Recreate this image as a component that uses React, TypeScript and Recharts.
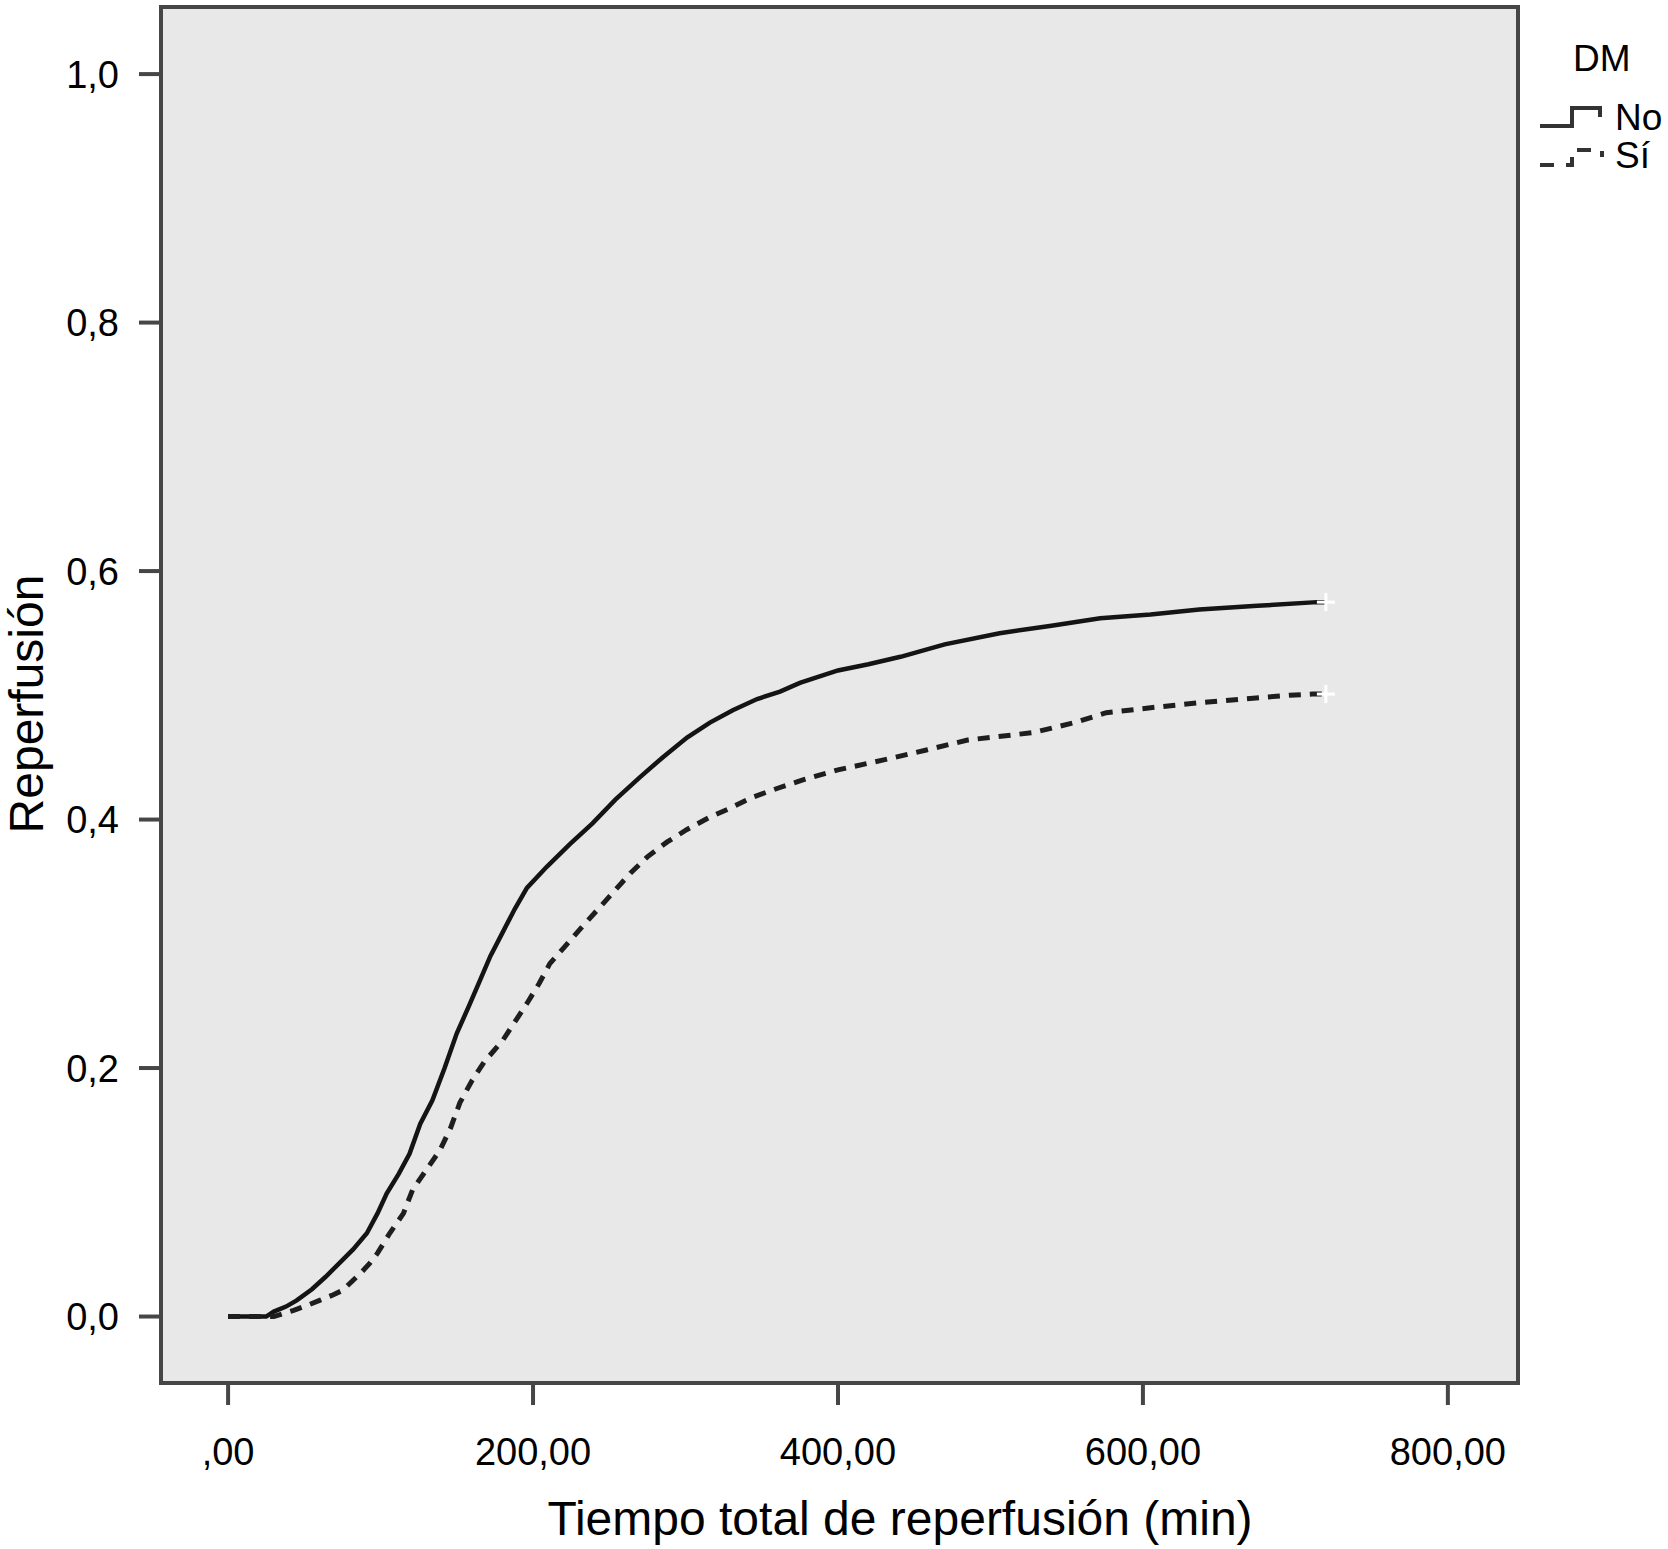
import React from 'react';
import { ComposedChart, Line, XAxis, YAxis, ReferenceArea, Scatter } from 'recharts';

// Tiempo total de reperfusión (min) – DM = No
const timeNo = [0, 25, 30, 38, 45, 55, 64, 73, 82, 91, 98, 104, 112, 119, 126, 134, 142, 150, 158, 165, 172, 180, 188, 196, 209, 224, 239, 254, 270, 285, 301, 316, 331, 347, 362, 375, 400, 420, 441, 470, 506, 540, 572, 605, 637, 675, 714, 720];
const reperfNo = [0, 0, 0.004, 0.008, 0.013, 0.022, 0.032, 0.043, 0.054, 0.067, 0.083, 0.099, 0.115, 0.131, 0.155, 0.174, 0.2, 0.228, 0.25, 0.27, 0.29, 0.309, 0.328, 0.345, 0.362, 0.38, 0.397, 0.416, 0.434, 0.45, 0.466, 0.478, 0.488, 0.497, 0.503, 0.51, 0.52, 0.525, 0.531, 0.541, 0.55, 0.556, 0.562, 0.565, 0.569, 0.572, 0.575, 0.575];

// DM = Sí
const timeSi = [0, 30, 43, 52, 60, 68, 75, 81, 87, 93, 98, 106, 115, 121, 130, 139, 146, 152, 160, 168, 180, 188, 196, 204, 211, 221, 231, 242, 253, 264, 275, 288, 301, 316, 329, 344, 360, 377, 400, 430, 458, 485, 528, 555, 576, 605, 637, 665, 696, 711, 720];
const reperfSi = [0, 0, 0.005, 0.009, 0.013, 0.017, 0.021, 0.028, 0.035, 0.043, 0.051, 0.067, 0.083, 0.102, 0.118, 0.134, 0.152, 0.172, 0.19, 0.205, 0.222, 0.237, 0.252, 0.268, 0.284, 0.298, 0.312, 0.327, 0.342, 0.357, 0.37, 0.382, 0.392, 0.402, 0.409, 0.418, 0.425, 0.432, 0.44, 0.448, 0.456, 0.464, 0.47, 0.478, 0.486, 0.49, 0.494, 0.497, 0.5, 0.501, 0.501];

// censored observations (+)
const censorTime = [720];
const censorNo = [0.575];
const censorSi = [0.501];

const xTicks = [0, 200, 400, 600, 800];
const yTicks = [0, 0.2, 0.4, 0.6, 0.8, 1.0];
const seriesNames = ['No', 'Sí'];
const legendTitle = 'DM';
const xTitle = 'Tiempo total de reperfusión (min)';
const yTitle = 'Reperfusión';

const noData = timeNo.map((t, i) => ({ t, v: reperfNo[i] }));
const siData = timeSi.map((t, i) => ({ t, v: reperfSi[i] }));
const censNoData = censorTime.map((t, i) => ({ t, v: censorNo[i] }));
const censSiData = censorTime.map((t, i) => ({ t, v: censorSi[i] }));

const FONT = '"Liberation Sans", Arial, Helvetica, sans-serif';
const AXIS_COLOR = '#464646';

const fmtX = (v: number) => (v === 0 ? ',00' : `${v},00`);
const fmtY = (v: number) => v.toFixed(1).replace('.', ',');

const CensorMark = (props: any) => {
  const { cx, cy } = props;
  if (cx == null || cy == null) return <g />;
  return (
    <g>
      <line x1={cx - 9} x2={cx + 9} y1={cy} y2={cy} stroke="#ffffff" strokeWidth={3} />
      <line x1={cx} x2={cx} y1={cy - 9} y2={cy + 9} stroke="#ffffff" strokeWidth={3} />
    </g>
  );
};

export default function App() {
  return (
    <div
      style={{
        position: 'absolute',
        left: 0,
        top: 0,
        width: 1668,
        height: 1549,
        background: '#ffffff',
        fontFamily: FONT,
      }}
    >
      <ComposedChart
        width={1668}
        height={1549}
        margin={{ top: 7, right: 150, bottom: 106, left: 101 }}
      >
        <XAxis
          dataKey="t"
          type="number"
          domain={[-44, 846]}
          ticks={xTicks}
          allowDataOverflow
          height={60}
          axisLine={false}
          tickLine={{ stroke: AXIS_COLOR, strokeWidth: 4 }}
          tickSize={22}
          tickMargin={33}
          tickFormatter={fmtX}
          tick={{ fontSize: 38, fill: '#000', fontFamily: FONT }}
          interval={0}
        />
        <YAxis
          dataKey="v"
          type="number"
          domain={[-0.0535, 1.054]}
          ticks={yTicks}
          allowDataOverflow
          width={60}
          axisLine={false}
          tickLine={{ stroke: AXIS_COLOR, strokeWidth: 4 }}
          tickSize={22}
          tickMargin={20}
          tickFormatter={fmtY}
          tick={{ fontSize: 38, fill: '#000', fontFamily: FONT }}
          interval={0}
        />
        <ReferenceArea
          x1={-44}
          x2={846}
          y1={-0.0535}
          y2={1.054}
          fill="#e8e8e8"
          fillOpacity={1}
          stroke={AXIS_COLOR}
          strokeWidth={4}
          ifOverflow="visible"
        />
        <Line
          data={noData}
          dataKey="v"
          name={seriesNames[0]}
          type="linear"
          stroke="#141414"
          strokeWidth={4.5}
          dot={false}
          isAnimationActive={false}
        />
        <Line
          data={siData}
          dataKey="v"
          name={seriesNames[1]}
          type="linear"
          stroke="#1e1e1e"
          strokeWidth={5}
          strokeDasharray="12 9"
          dot={false}
          isAnimationActive={false}
        />
        <Scatter data={censNoData} dataKey="v" shape={CensorMark} isAnimationActive={false} legendType="none" />
        <Scatter data={censSiData} dataKey="v" shape={CensorMark} isAnimationActive={false} legendType="none" />
      </ComposedChart>
      <svg
        width={1668}
        height={1549}
        style={{ position: 'absolute', left: 0, top: 0, pointerEvents: 'none' }}
      >
        <text x={900} y={1535} textAnchor="middle" fontSize={48} fontFamily={FONT} fill="#000">
          {xTitle}
        </text>
        <text
          x={0}
          y={0}
          transform="translate(43,704) rotate(-90)"
          textAnchor="middle"
          fontSize={48}
          fontFamily={FONT}
          fill="#000"
        >
          {yTitle}
        </text>
        <text x={1573} y={71} fontSize={37} fontFamily={FONT} fill="#000">
          {legendTitle}
        </text>
        <path d="M1540,126 H1572 V108 H1600 V117" fill="none" stroke="#333" strokeWidth={4} />
        <text x={1615} y={130} fontSize={37} fontFamily={FONT} fill="#000">
          {seriesNames[0]}
        </text>
        <path
          d="M1540,165 H1572 V150 H1602 V157"
          fill="none"
          stroke="#333"
          strokeWidth={4}
          strokeDasharray="14 12"
        />
        <text x={1615} y={168} fontSize={37} fontFamily={FONT} fill="#000">
          {seriesNames[1]}
        </text>
      </svg>
    </div>
  );
}
